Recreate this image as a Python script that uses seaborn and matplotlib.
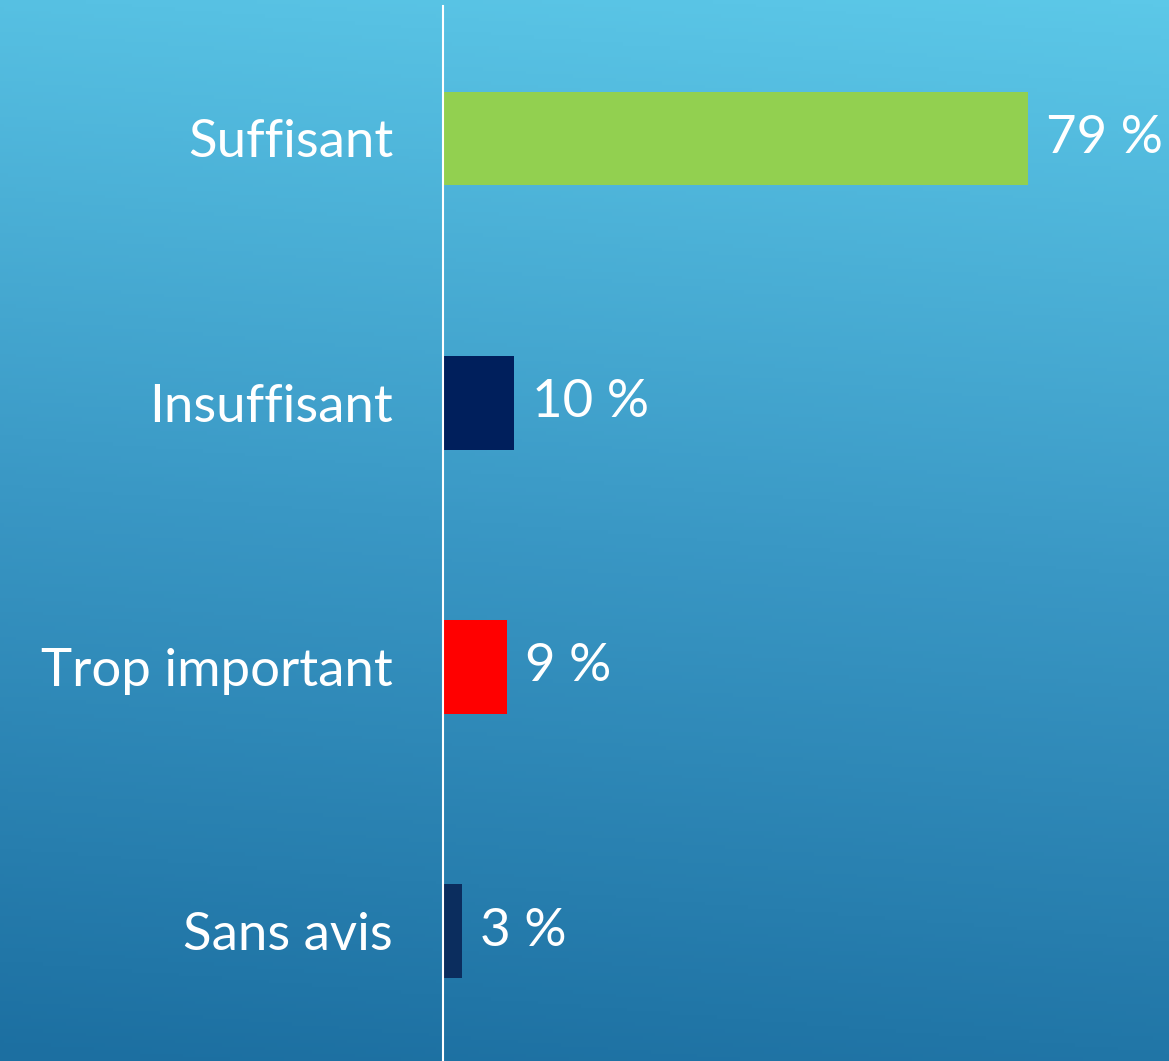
import numpy as np
import pandas as pd
import matplotlib.pyplot as plt
import seaborn as sns
from matplotlib.colors import LinearSegmentedColormap

# data
categories = ["Suffisant", "Insuffisant", "Trop important", "Sans avis"]
values = [79, 9.6, 8.6, 2.6]
value_labels = ["79 %", "10 %", "9 %", "3 %"]
bar_colors = ["#92D050", "#001F5C", "#FF0000", "#0B2D5E"]

df = pd.DataFrame({"cat": categories, "val": values})

sns.set_theme(style="white")
plt.rcParams["font.family"] = ["Lato", "DejaVu Sans"]

fig = plt.figure(figsize=(11.69, 10.61), dpi=100)

# gradient background
bg = fig.add_axes([0, 0, 1, 1])
yy = np.linspace(0, 1, 300)[:, None]
xx = np.linspace(0, 1, 300)[None, :]
grad = yy * 0.92 + (1 - xx) * 0.08
cmap = LinearSegmentedColormap.from_list("bg", ["#5CC8E8", "#3A98C5", "#1C6FA1"])
bg.imshow(grad, cmap=cmap, aspect="auto", extent=[0, 1, 0, 1], origin="upper")
bg.axis("off")

ax = fig.add_axes([0.379, -0.002, 0.621, 0.996])
ax.patch.set_alpha(0)
sns.barplot(data=df, y="cat", x="val", hue="cat", palette=bar_colors,
            legend=False, width=0.355, saturation=1, linewidth=0,
            ax=ax, orient="h")

ax.set_xlim(0, 98)
ax.set_ylim(3.5, -0.5)
ax.set_xlabel("")
ax.set_ylabel("")
ax.set_xticks([])
for s in ["top", "right", "bottom"]:
    ax.spines[s].set_visible(False)
ax.spines["left"].set_color("white")
ax.spines["left"].set_linewidth(1.5)

ax.tick_params(axis="y", length=0, pad=36, labelsize=38, labelcolor="white")

for cont, lab in zip(ax.containers, value_labels):
    ax.bar_label(cont, labels=[lab], padding=13, color="white", fontsize=38)

fig.savefig("out.png", dpi=100)
